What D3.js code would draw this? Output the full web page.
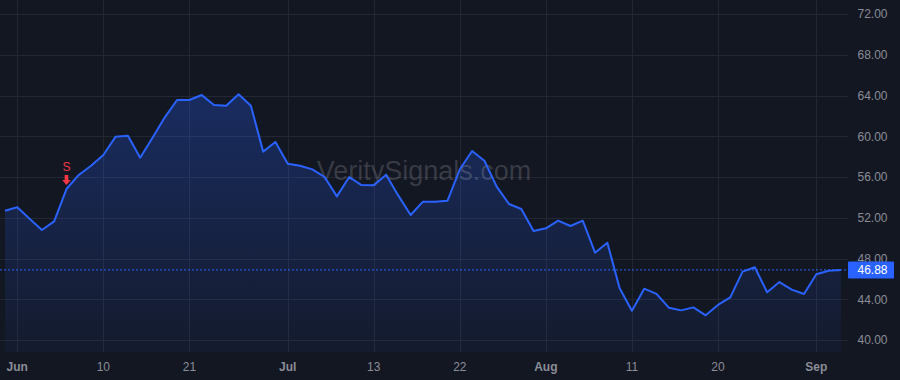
<!DOCTYPE html>
<html>
<head>
<meta charset="utf-8">
<script src="https://cdn.jsdelivr.net/npm/d3@7"></script>
<style>
  html, body { margin: 0; padding: 0; background: #131722; }
  svg { display: block; }
</style>
</head>
<body>
<svg id="chart" width="900" height="380"></svg>
<script>
// ---- data ----
const values = [
  52.69, 53.03, 51.91, 50.80, 51.65, 54.82, 56.20, 57.11, 58.16, 59.96,
  60.05, 57.89, 59.85, 61.86, 63.56, 63.56, 64.05, 63.07, 63.00, 64.12,
  63.00, 58.49, 59.44, 57.30, 57.11, 56.75, 56.00, 54.10, 56.00, 55.21,
  55.18, 56.23, 54.17, 52.27, 53.58, 53.58, 53.67, 56.76, 58.55, 57.60,
  55.05, 53.35, 52.86, 50.70, 50.96, 51.71, 51.19, 51.71, 48.57, 49.55,
  45.07, 42.88, 45.04, 44.52, 43.17, 42.91, 43.20, 42.42, 43.44, 44.19,
  46.71, 47.14, 44.68, 45.69, 44.94, 44.52, 46.45, 46.80, 46.88
];
const timeTickIndex = [1, 8, 15, 23, 30, 37, 44, 51, 58, 66];
const timeTickLabels = ["Jun", "10", "21", "Jul", "13", "22", "Aug", "11", "20", "Sep"];
const timeTickIsMonth = [true, false, false, true, false, false, true, false, false, true];
const priceTicks = [40, 44, 48, 52, 56, 60, 64, 68, 72];
const lastPrice = 46.88;
const signalIndex = [5];
const signalLabels = ["S"];
const watermark = "VeritySignals.com";

// ---- layout ----
const W = 900, H = 380;
const plotRight = 848, plotBottom = 352;
const font = "'Liberation Sans', Arial, sans-serif";

const svg = d3.select("#chart");
const x = d3.scaleLinear().domain([0, values.length - 1]).range([5, 840.9]);
const y = d3.scaleLinear().domain([40, 72]).range([340, 14]);

svg.append("rect").attr("width", W).attr("height", H).attr("fill", "#131722");

// gradient
const defs = svg.append("defs");
const grad = defs.append("linearGradient").attr("id", "areaGrad")
  .attr("gradientUnits", "userSpaceOnUse")
  .attr("x1", 0).attr("x2", 0).attr("y1", y(d3.max(values))).attr("y2", plotBottom);
grad.append("stop").attr("offset", "0%").attr("stop-color", "#2962ff").attr("stop-opacity", 0.28);
grad.append("stop").attr("offset", "100%").attr("stop-color", "#2962ff").attr("stop-opacity", 0.05);

// grid
const gridColor = "#232733";
svg.append("g").selectAll("line").data(priceTicks).join("line")
  .attr("x1", 0).attr("x2", plotRight)
  .attr("y1", d => Math.round(y(d)) + 0.5).attr("y2", d => Math.round(y(d)) + 0.5)
  .attr("stroke", gridColor).attr("stroke-width", 1);
svg.append("g").selectAll("line").data(timeTickIndex).join("line")
  .attr("x1", d => Math.round(x(d)) + 0.5).attr("x2", d => Math.round(x(d)) + 0.5)
  .attr("y1", 0).attr("y2", plotBottom)
  .attr("stroke", gridColor).attr("stroke-width", 1);

// area + line
const area = d3.area().x((d, i) => x(i)).y0(plotBottom).y1(d => y(d));
svg.append("path").datum(values).attr("d", area).attr("fill", "url(#areaGrad)");

// watermark
svg.append("text").attr("x", 424).attr("y", 180).attr("text-anchor", "middle")
  .attr("font-family", font).attr("font-size", 27)
  .attr("fill", "#ffffff").attr("fill-opacity", 0.16).text(watermark);

const line = d3.line().x((d, i) => x(i)).y(d => y(d));
svg.append("path").datum(values).attr("d", line)
  .attr("fill", "none").attr("stroke", "#2962ff").attr("stroke-width", 2)
  .attr("stroke-linejoin", "round");

// last price dotted line
svg.append("line").attr("x1", 0).attr("x2", plotRight)
  .attr("y1", y(lastPrice)).attr("y2", y(lastPrice))
  .attr("stroke", "#2962ff").attr("stroke-width", 1).attr("stroke-dasharray", "2,2");

// signals
const sig = svg.append("g");
signalIndex.forEach((si, j) => {
  const px = x(si), py = y(values[si]);
  const tip = py - 4;
  sig.append("path")
    .attr("d", `M${px - 1.8},${tip - 10} L${px + 1.8},${tip - 10} L${px + 1.8},${tip - 5} L${px + 4.3},${tip - 5} L${px},${tip} L${px - 4.3},${tip - 5} L${px - 1.8},${tip - 5} Z`)
    .attr("fill", "#f23645");
  sig.append("text").attr("x", px).attr("y", tip - 14).attr("text-anchor", "middle")
    .attr("font-family", font).attr("font-size", 12).attr("fill", "#f23645")
    .text(signalLabels[j]);
});

// price axis labels
const axisColor = "#8a8d97";
svg.append("g").selectAll("text").data(priceTicks).join("text")
  .attr("x", 887.5).attr("y", d => y(d) + 4.3).attr("text-anchor", "end")
  .attr("font-family", font).attr("font-size", 12).attr("fill", axisColor)
  .text(d => d.toFixed(2));

// last price label
const ly = y(lastPrice);
svg.append("rect").attr("x", 848).attr("y", ly - 8.5).attr("width", 46).attr("height", 17)
  .attr("fill", "#2962ff").attr("rx", 1);
svg.append("text").attr("x", 887.5).attr("y", ly + 4.3).attr("text-anchor", "end")
  .attr("font-family", font).attr("font-size", 12).attr("fill", "#ffffff")
  .text(lastPrice.toFixed(2));

// time axis labels
svg.append("g").selectAll("text").data(timeTickIndex).join("text")
  .attr("x", d => x(d)).attr("y", 371).attr("text-anchor", "middle")
  .attr("font-family", font).attr("font-size", 12)
  .attr("font-weight", (d, i) => timeTickIsMonth[i] ? "bold" : "normal")
  .attr("fill", axisColor)
  .text((d, i) => timeTickLabels[i]);
</script>
</body>
</html>
